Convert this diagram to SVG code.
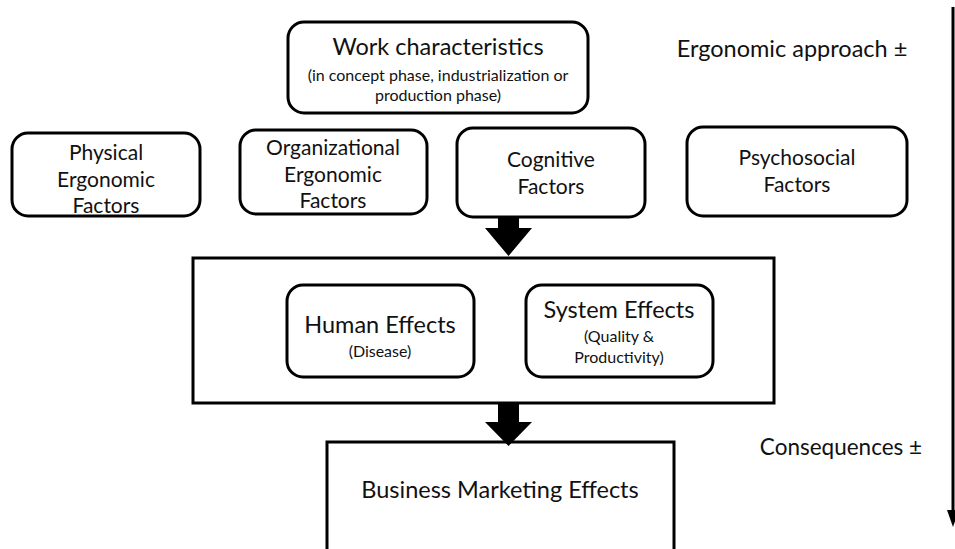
<svg xmlns="http://www.w3.org/2000/svg" width="955" height="549" viewBox="0 0 955 549">
<style>
.box{fill:#fff;stroke:#000;stroke-width:3}
.t{font-family:Lato,"Open Sans",sans-serif;fill:#111;text-anchor:middle}
.l{font-size:21px}
.s{font-size:16px}
.m{font-size:23.5px}
</style>
<rect width="955" height="549" fill="#fff"/>
<g id="work">
<rect class="box" x="288" y="22" width="300" height="91" rx="16"/>
<text class="t m" x="438" y="55">Work characteristics</text>
<text class="t" x="438" y="81" font-size="16">(in concept phase, industrialization or</text>
<text class="t" x="438" y="101" font-size="16">production phase)</text>
</g>
<g id="approach"><text class="t m" x="792" y="57">Ergonomic approach ±</text></g>
<g id="physical">
<rect class="box" x="12" y="133" width="188" height="83" rx="16"/>
<text class="t l" x="106" y="160">Physical</text>
<text class="t l" x="106" y="187">Ergonomic</text>
<text class="t l" x="106" y="213">Factors</text>
</g>
<g id="organizational">
<rect class="box" x="240" y="130" width="187" height="84" rx="16"/>
<text class="t l" x="333" y="155">Organizational</text>
<text class="t l" x="333" y="182">Ergonomic</text>
<text class="t l" x="333" y="208">Factors</text>
</g>
<g id="cognitive">
<rect class="box" x="457" y="128" width="188" height="89" rx="16"/>
<text class="t l" x="551" y="167">Cognitive</text>
<text class="t l" x="551" y="194">Factors</text>
</g>
<g id="psychosocial">
<rect class="box" x="687" y="127" width="220" height="89" rx="16"/>
<text class="t l" x="797" y="165">Psychosocial</text>
<text class="t l" x="797" y="192">Factors</text>
</g>
<g id="effects">
<rect class="box" x="193" y="258" width="581" height="145"/>
</g>
<g id="human">
<rect class="box" x="287" y="285" width="187" height="92" rx="16"/>
<text class="t m" x="380" y="333">Human Effects</text>
<text class="t s" x="380" y="357">(Disease)</text>
</g>
<g id="system">
<rect class="box" x="526" y="285" width="187" height="92" rx="16"/>
<text class="t m" x="619" y="318">System Effects</text>
<text class="t s" x="619" y="342">(Quality &amp;</text>
<text class="t s" x="619" y="363">Productivity)</text>
</g>
<g id="consequences"><text class="t" x="841" y="455" font-size="22.5">Consequences ±</text></g>
<g id="business">
<rect class="box" x="327" y="442" width="347" height="110"/>
<text class="t m" x="500" y="498">Business Marketing Effects</text>
</g>
<g id="connectors">
<path d="M498,217 L519,217 L519,228 L532,228 L508.5,256 L485,228 L498,228 Z" fill="#000"/>
<path d="M498,404 L519,404 L519,422 L532,422 L508.5,446 L485,422 L498,422 Z" fill="#000"/>
<line x1="953" y1="7" x2="953" y2="512" stroke="#000" stroke-width="3"/>
<path d="M947,510 L959,510 L953,527 Z" fill="#000"/>
</g>
</svg>
